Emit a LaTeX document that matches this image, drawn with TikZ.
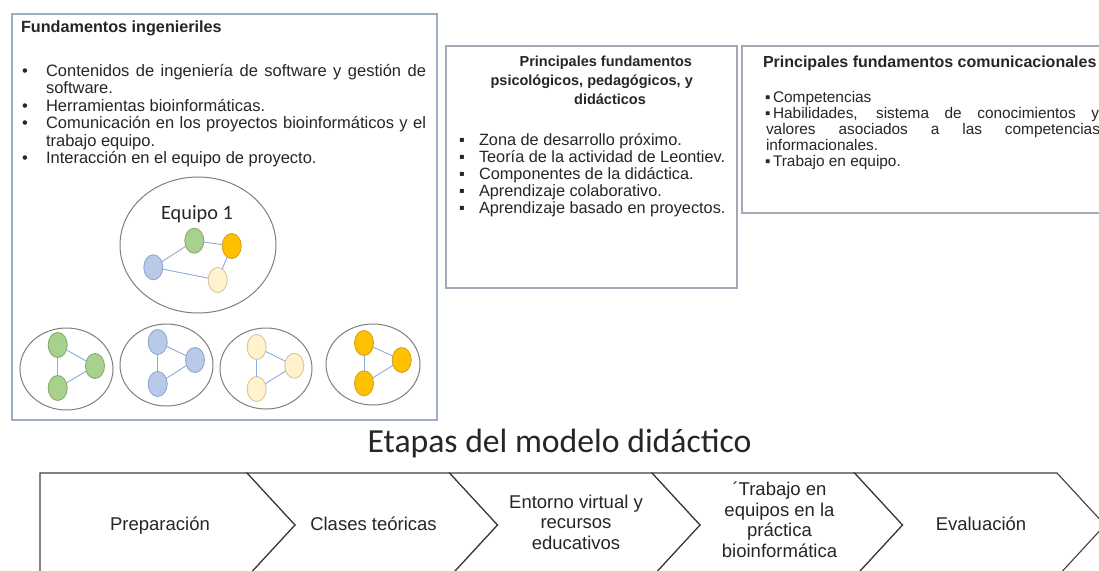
\documentclass[tikz,border=0pt]{standalone}
\usepackage{fontspec}
\setmainfont{Liberation Sans}
\newfontfamily\carlito{Carlito}
\usetikzlibrary{shapes.geometric}
\definecolor{ink}{HTML}{262626}
\definecolor{boxLc}{HTML}{9EADC8}
\definecolor{boxMc}{HTML}{A3A9B5}
\definecolor{ellc}{HTML}{7F7F7F}
\definecolor{edgec}{HTML}{8FAADC}
\definecolor{grnF}{HTML}{A9D18E}
\definecolor{grnD}{HTML}{86AC6E}
\definecolor{bluF}{HTML}{B8CAE8}
\definecolor{bluD}{HTML}{8EA9D6}
\definecolor{crmF}{HTML}{FFF2CC}
\definecolor{crmD}{HTML}{D5C79C}
\definecolor{orgF}{HTML}{FFC000}
\definecolor{orgD}{HTML}{D9A21A}
\definecolor{chevc}{HTML}{404040}
\begin{document}
\begin{tikzpicture}[x=1pt,y=-1pt,
  every node/.style={inner sep=0pt,outer sep=0pt,text=ink},
  ln/.style={anchor=base west},
  lnc/.style={anchor=base},
  fL/.style={font=\fontsize{16.5}{17.5}\selectfont},
  fM/.style={font=\fontsize{16.3}{17}\selectfont},
  fR/.style={font=\fontsize{15.4}{16}\selectfont},
  fMt/.style={font=\bfseries\fontsize{14.5}{17}\selectfont},
  fC/.style={font=\fontsize{18.5}{20.5}\selectfont},
  boxL/.style={draw=boxLc,line width=1.3pt},
  boxM/.style={draw=boxMc,line width=1.2pt},
  team/.style={ellipse,draw=ellc,line width=1pt,minimum width=#1},
  member/.style={ellipse,line width=0.9pt,minimum width=19pt,minimum height=25pt},
  mg/.style={member,fill=grnF,draw=grnD},
  mb/.style={member,fill=bluF,draw=bluD},
  mc/.style={member,fill=crmF,draw=crmD},
  mo/.style={member,fill=orgF,draw=orgD},
  link/.style={draw=edgec,line width=0.9pt},
  chev/.style={draw=chevc,line width=1.1pt,line join=miter}
]
\useasboundingbox (0,0) rectangle (1099,570);
\clip (0,0) rectangle (1099,570);
\fill[white] (0,0) rectangle (1099,570);

% ---------- left box ----------
\draw[boxL] (12,14) rectangle (437,420);
\node[ln,font=\bfseries\fontsize{16.2}{18}\selectfont] (tL) at (21,32.5) {Fundamentos ingenieriles};
\node[ln,fL] (bL1) at (22,76) {•};
\node[ln,fL] (iL1a) at (46,76) {\makebox[380pt][s]{Contenidos de ingeniería de software y gestión de}};
\node[ln,fL] (iL1b) at (46,93.5) {software.};
\node[ln,fL] (bL2) at (22,111) {•};
\node[ln,fL] (iL2) at (46,111) {Herramientas bioinformáticas.};
\node[ln,fL] (bL3) at (22,128.5) {•};
\node[ln,fL] (iL3a) at (46,128.5) {\makebox[380pt][s]{Comunicación en los proyectos bioinformáticos y el}};
\node[ln,fL] (iL3b) at (46,146) {trabajo equipo.};
\node[ln,fL] (bL4) at (22,163.5) {•};
\node[ln,fL] (iL4) at (46,163.5) {Interacción en el equipo de proyecto.};

% team 1
\node[team=156pt,minimum height=136pt] (T1) at (198,245) {};
\node[lnc,font=\carlito\fontsize{20.3}{22}\selectfont] (T1lab) at (197,219.3) {Equipo 1};
\node[mg] (t1g) at (194.3,240.7) {};
\node[mo] (t1o) at (231.7,246) {};
\node[mb] (t1b) at (153.3,267.3) {};
\node[mc] (t1c) at (217.7,280) {};
\draw[link] (t1b) -- (t1g);
\draw[link] (t1g) -- (t1o);
\draw[link] (t1o) -- (t1c);
\draw[link] (t1c) -- (t1b);

% small teams
\node[team=93pt,minimum height=82pt] (T2) at (66.5,369) {};
\node[mg] (t2a) at (57.7,345) {};
\node[mg] (t2b) at (95,366) {};
\node[mg] (t2c) at (57.7,388) {};
\draw[link] (t2a) -- (t2b);
\draw[link] (t2a) -- (t2c);
\draw[link] (t2c) -- (t2b);

\node[team=93pt,minimum height=82pt] (T3) at (166.5,365) {};
\node[mb] (t3a) at (157.7,342) {};
\node[mb] (t3b) at (195,360) {};
\node[mb] (t3c) at (157.7,384) {};
\draw[link] (t3a) -- (t3b);
\draw[link] (t3a) -- (t3c);
\draw[link] (t3c) -- (t3b);

\node[team=92pt,minimum height=81pt] (T4) at (266,368.5) {};
\node[mc] (t4a) at (256.7,347) {};
\node[mc] (t4b) at (294.3,365.7) {};
\node[mc] (t4c) at (256.7,389) {};
\draw[link] (t4a) -- (t4b);
\draw[link] (t4a) -- (t4c);
\draw[link] (t4c) -- (t4b);

\node[team=94pt,minimum height=81pt] (T5) at (373,364.5) {};
\node[mo] (t5a) at (364,343) {};
\node[mo] (t5b) at (401.7,360) {};
\node[mo] (t5c) at (364,383.3) {};
\draw[link] (t5a) -- (t5b);
\draw[link] (t5a) -- (t5c);
\draw[link] (t5c) -- (t5b);

% ---------- middle box ----------
\draw[boxM] (446,46) rectangle (737,288);
\node[lnc,fMt] (tM1) at (605.8,66) {Principales fundamentos};
\node[lnc,fMt] (tM2) at (591.7,85) {psicológicos, pedagógicos, y};
\node[lnc,fMt] (tM3) at (610,104) {didácticos};
\node[ln,fM] (bM1) at (459,145.5) {▪};
\node[ln,fM] (iM1) at (479,145.5) {Zona de desarrollo próximo.};
\node[ln,fM] (bM2) at (459,162.5) {▪};
\node[ln,fM] (iM2) at (479,162.5) {Teoría de la actividad de Leontiev.};
\node[ln,fM] (bM3) at (459,179.5) {▪};
\node[ln,fM] (iM3) at (479,179.5) {Componentes de la didáctica.};
\node[ln,fM] (bM4) at (459,196.5) {▪};
\node[ln,fM] (iM4) at (479,196.5) {Aprendizaje colaborativo.};
\node[ln,fM] (bM5) at (459,213.5) {▪};
\node[ln,fM] (iM5) at (479,213.5) {Aprendizaje basado en proyectos.};

% ---------- right box ----------
\draw[boxM] (742,46) rectangle (1120,213);
\node[ln,font=\bfseries\fontsize{16}{17}\selectfont] (tR) at (763,67) {Principales fundamentos comunicacionales};
\node[ln,fR] (bR1) at (765,102) {▪};
\node[ln,fR] (iR1) at (773,102) {Competencias};
\node[ln,fR] (bR2) at (765,118) {▪};
\node[ln,fR] (iR2a) at (773,118) {\makebox[326pt][s]{Habilidades, sistema de conocimientos y}};
\node[ln,fR] (iR2b) at (766,134) {\makebox[334pt][s]{valores asociados a las competencias}};
\node[ln,fR] (iR2c) at (766,150) {informacionales.};
\node[ln,fR] (bR3) at (765,166) {▪};
\node[ln,fR] (iR3) at (773,166) {Trabajo en equipo.};

% ---------- stages ----------
\node[lnc,font=\carlito\fontsize{33.7}{36}\selectfont] (title) at (559.5,452.5) {Etapas del modelo didáctico};

\draw[chev] (40,473) -- (247,473) -- (295,525) -- (247,577) -- (40,577) -- cycle;
\foreach \a/\b in {247/449.5, 449.5/652, 652/854.5, 854.5/1057}{
  \draw[chev] (\a,473) -- (\b,473) -- (\b+48,525) -- (\b,577) -- (\a,577) -- (\a+48,525) -- cycle;
}
\node[lnc,fC] (s1) at (160,530) {Preparación};
\node[lnc,fC] (s2) at (373.5,530) {Clases teóricas};
\node[lnc,fC] (s3) at (576,508) {\begin{tabular}[t]{@{}c@{}}Entorno virtual y\\recursos\\educativos\end{tabular}};
\node[lnc,fC] (s4) at (779.5,495.5) {\begin{tabular}[t]{@{}c@{}}´Trabajo en\\equipos en la\\práctica\\bioinformática\end{tabular}};
\node[lnc,fC] (s5) at (981,530) {Evaluación};
\end{tikzpicture}
\end{document}
